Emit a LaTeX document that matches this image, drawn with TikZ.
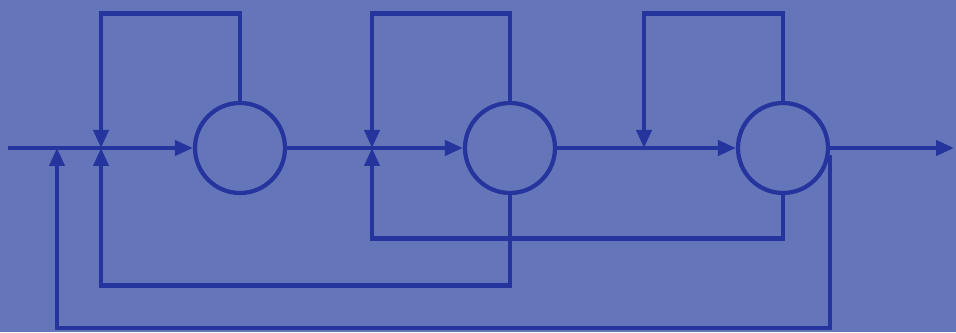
\documentclass[tikz,border=0pt]{standalone}
\usepackage{tikz}
\usetikzlibrary{calc, arrows.meta}
\tikzset{>={Triangle[length=0.36cm, width=0.3cm]}}
\definecolor{myback}{RGB}{101, 117, 185}
\definecolor{myline}{RGB}{38, 52, 158}

\begin{document}
\begin{tikzpicture}[wire/.style={draw=myline, line width=2.3pt}, block/.style={circle, draw=myline, line width=2.4pt, minimum size=1.8cm, inner sep=0pt}]
\fill[myback] (0,0) rectangle (19.12,6.64);
\useasboundingbox (0,0) rectangle (19.12,6.64);
\foreach \n/\x in {1/4.8, 2/10.2, 3/15.66}{
\node[block] (c\n) at (\x, 3.68) {};
}
\foreach \n/\x in {0/1.14, 1/2.02, 2/7.44, 3/12.88}{
\coordinate (j\n) at (\x, 3.68);
}
\coordinate (in) at (0.16, 3.68);
\coordinate (out) at (19.08, 3.68);
% forward path
\draw[wire, ->] (in) -- (c1);
\draw[wire, ->] (c1) -- (c2);
\draw[wire, ->] (c2) -- (c3);
\draw[wire, ->] (c3) -- (out);
% loops over the top
\foreach \n in {1, 2, 3}{
\draw[wire, ->] (c\n.north) |- ($(j\n)+(0,2.69)$) -- (j\n);
}
% loops underneath
\draw[wire, ->] (c3.south) |- ($(j2)+(0,-1.81)$) -- (j2);
\draw[wire, ->] (c2.south) |- ($(j1)+(0,-2.75)$) -- (j1);
\draw[wire, ->] (c3.-8) |- ($(j0)+(0,-3.6)$) -- (j0);
\end{tikzpicture}
\end{document}
